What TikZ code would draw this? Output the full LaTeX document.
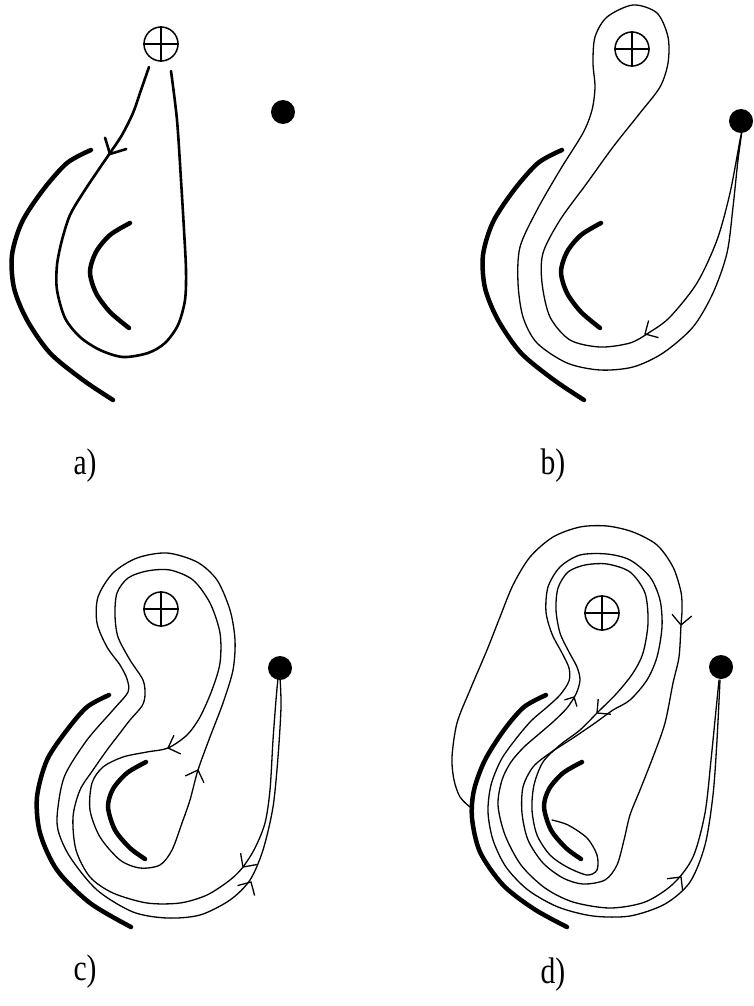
\documentclass[tikz,border=0pt]{standalone}
\usepackage{fontspec}
\setmainfont{Liberation Serif}
\begin{document}
\begin{tikzpicture}[x=1pt,y=-1pt,
  cut/.style={line width=4.5pt,line cap=round},
  loopa/.style={line width=2.6pt,line cap=round},
  thin/.style={line width=1.3pt,line cap=round,line join=round},
  arrline/.style={line width=1.3pt},
  plus/.style={circle,draw,line width=1.5pt,minimum size=34pt,inner sep=0pt},
  blob/.style={circle,fill=black,minimum size=24pt,inner sep=0pt},
  lab/.style={font=\fontsize{37}{40}\selectfont,inner sep=0pt}]
\newcommand\arrV[4][14]{\draw[arrline] (#2,#3) ++(#4+135:#1) -- (#2,#3) -- ++(#4-135:#1);}
\newcommand\plusmark[1]{\draw[line width=1.5pt] (#1.north)--(#1.south) (#1.east)--(#1.west);}
\useasboundingbox (0,0) rectangle (753,1006);

% ---------- a) ----------
\node[plus] (pa) at (161,44) {}; \plusmark{pa}
\node[blob] (da) at (283,112) {};
\draw[cut] plot[smooth] coordinates {(91,150) (67,163) (43,190) (22,222) (12,255) (14,288) (27,320) (50,353) (83,380) (113,400)};
\draw[cut] plot[smooth] coordinates {(130,223) (110,235) (96,252) (90,272) (96,293) (110,312) (129,328)};
\draw[loopa] plot[smooth] coordinates {(149,67) (140,93) (133,113) (122,135) (110,153) (97,172) (83,193) (70,215) (62,240) (57,265) (57,290) (65,318) (80,337) (100,350) (123,357) (148,353) (165,343) (178,325) (185,300) (186,270) (184,230) (181,180) (177,120) (171,71)};
\draw[loopa] (110,154) ++(118+135:17) -- (110,154) -- ++(118-135:17);
\node[lab] (la) at (85,466) {\scalebox{0.8}[1]{a)}};

% ---------- b) ----------
\node[plus] (pb) at (632,49) {}; \plusmark{pb}
\node[blob] (db) at (741,121) {};
\draw[cut] plot[smooth] coordinates {(562,150) (538,163) (514,190) (493,222) (483,255) (485,288) (498,320) (521,353) (554,380) (584,400)};
\draw[cut] plot[smooth] coordinates {(601,223) (581,235) (567,252) (561,272) (567,293) (581,312) (600,328)};
\draw[thin] plot[smooth] coordinates {(742,131) (738,160) (733,207) (727,253) (713,293) (693,327) (663,353) (633,367) (600,370) (567,363) (537,343) (523,317) (518,283) (520,247) (537,210) (560,170) (583,133) (592,110) (595,87) (593,63) (595,37) (607,17) (633,5) (657,13) (668,37) (668,63) (660,87) (640,113) (613,147) (587,183) (560,220) (543,253) (542,283) (550,317) (570,340) (600,347) (630,343) (650,332) (670,317) (697,283) (717,240) (730,193) (740,140) (742,131)};
\arrV{645}{334}{150}
\node[lab] (lb) at (553,466) {\scalebox{0.8}[1]{b)}};

% ---------- c) ----------
\node[plus] (pc) at (161,609) {}; \plusmark{pc}
\node[blob] (dc) at (280,668) {};
\draw[cut] plot[smooth] coordinates {(109,695) (87,707) (67,730) (47,760) (37,797) (40,833) (57,870) (90,903) (131,927)};
\draw[cut] plot[smooth] coordinates {(146,762) (127,773) (113,789) (108,807) (115,830) (130,848) (145,859)};
\draw[thin] plot[smooth] coordinates {(278,678) (276,700) (273,740) (270,790) (265,823) (255,848) (243,867) (230,880) (207,895) (180,903) (147,903) (113,893) (90,877) (76,850) (73,817) (80,790) (93,770) (107,750) (120,733) (130,720) (142,706) (145,695) (143,680) (130,660) (118,637) (115,615) (117,593) (128,578) (147,571) (170,570) (193,580) (210,603) (220,633) (220,663) (212,690) (200,717) (187,735) (168,748) (147,752) (123,757) (103,767) (92,783) (90,810) (100,837) (120,860) (140,868) (160,865) (172,850) (182,823) (190,800) (198,770) (210,737) (223,703) (233,670) (235,640) (230,610) (217,580) (197,562) (167,553) (137,558) (113,573) (98,597) (97,623) (107,647) (120,665) (127,679) (128,692) (113,710) (87,740) (65,775) (58,807) (58,830) (70,857) (97,890) (133,912) (167,918) (200,915) (230,900) (250,880) (263,850) (273,807) (278,757) (281,707) (280,678)};
\arrV{243}{867}{125}
\arrV{251}{882}{300}
\arrV{168}{748}{160}
\arrV{198}{770}{290}
\node[lab] (lc) at (85,972) {\scalebox{0.8}[1]{c)}};

% ---------- d) ----------
\node[plus] (pd) at (602,613) {}; \plusmark{pd}
\node[blob] (dd) at (721,667) {};
\draw[cut] plot[smooth] coordinates {(546,695) (524,707) (504,730) (485,760) (474,790) (472,818) (480,852) (503,885) (534,909) (567,927)};
\draw[cut] plot[smooth] coordinates {(582,762) (563,773) (549,789) (544,807) (551,830) (566,848) (581,859)};
\draw[thin] plot[smooth] coordinates {(470,807) (460,797) (454,780) (452,757) (457,723) (470,690) (487,650) (500,617) (513,585) (530,557) (553,537) (580,527) (607,526) (633,532) (657,545) (673,567) (681,592) (682,610) (681,625) (679,657) (673,683) (665,723) (653,757) (640,790) (630,815) (624,840) (617,865) (605,880) (583,884) (563,878) (543,863) (528,840) (522,813) (523,787) (533,767) (550,753) (573,738) (595,723) (613,710) (630,700) (647,680) (657,657) (662,627) (660,600) (650,577) (630,560) (607,554) (580,555) (560,567) (548,587) (546,612) (552,634) (562,653) (569,668) (569,681) (560,695) (546,708) (531,721) (515,740) (501,760) (491,785) (488,812) (493,840) (506,867) (528,890) (558,907) (593,916) (630,916) (665,904) (690,882) (705,845) (713,795) (717,740) (720,680)};
\draw[thin] plot[smooth] coordinates {(719,680) (715,720) (711,760) (705,813) (693,857) (673,884) (645,902) (610,908) (573,902) (545,888) (521,865) (505,835) (498,805) (502,780) (511,762) (524,747) (539,734) (554,721) (567,708) (576,694) (580,680) (577,667) (569,652) (560,633) (556,610) (558,588) (568,572) (585,565) (607,564) (630,572) (645,593) (648,623) (643,653) (633,673) (617,693) (597,713) (580,730) (560,745) (543,762) (534,785) (532,810) (537,835) (550,855) (567,867) (587,875) (597,870) (597,855) (587,838) (568,825) (552,820)};
\arrV{681}{625}{95}
\arrV{597}{713}{140}
\arrV[10]{574}{697}{298}
\arrV{681}{877}{308}
\node[lab] (ld) at (553,975) {\scalebox{0.8}[1]{d)}};
\end{tikzpicture}
\end{document}
